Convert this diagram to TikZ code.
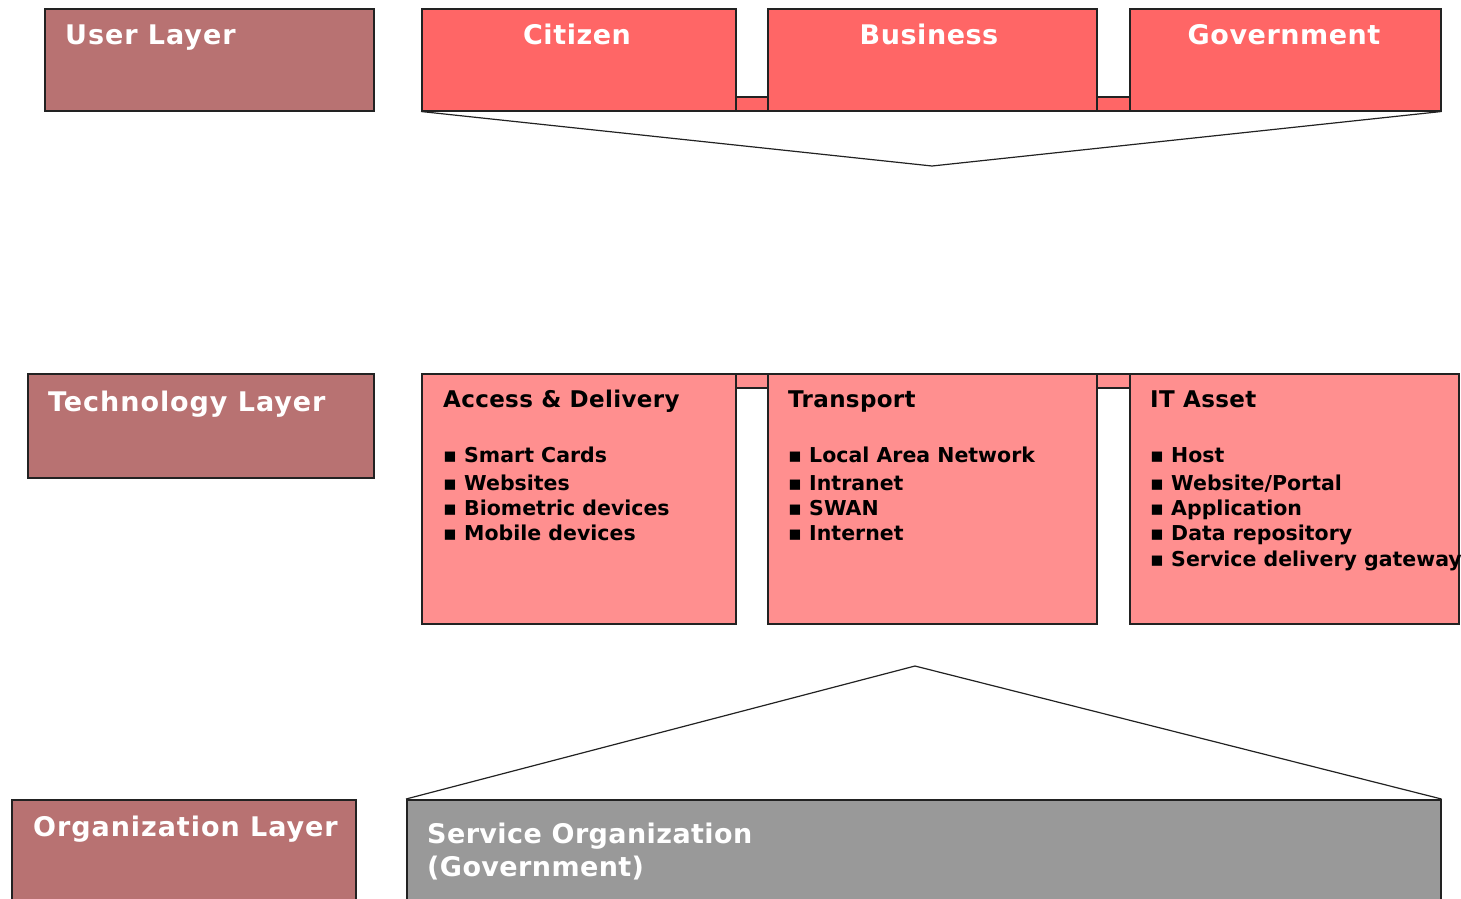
\documentclass[tikz,border=0pt]{standalone}
\usepackage{fontspec}
\setmainfont{DejaVu Sans}
\definecolor{layerc}{HTML}{B87272}
\definecolor{userc}{HTML}{FF6666}
\definecolor{techc}{HTML}{FF8F8F}
\definecolor{orgc}{HTML}{999999}
\definecolor{edgec}{HTML}{222222}
\begin{document}
\begin{tikzpicture}[x=1pt,y=-1pt,
  box/.style={draw=edgec, line width=1.5pt, anchor=north west, inner sep=0pt},
  layerbox/.style={box, fill=layerc},
  userbox/.style={box, fill=userc},
  techbox/.style={box, fill=techc},
  orgbox/.style={box, fill=orgc},
  link/.style={draw=edgec, line width=1.2pt},
  wlabel/.style={text=white, font=\bfseries\fontsize{27}{33}\selectfont\addfontfeatures{LetterSpace=3.5}, inner sep=0pt, anchor=base west},
  slabel/.style={text=white, font=\bfseries\fontsize{27}{33}\selectfont\addfontfeatures{LetterSpace=1.5}, inner sep=0pt, anchor=base west},
  ctitle/.style={text=white, font=\bfseries\fontsize{27}{33}\selectfont\addfontfeatures{LetterSpace=2}, inner sep=0pt, anchor=base},
  ttitle/.style={text=black, font=\bfseries\fontsize{23}{28}\selectfont\addfontfeatures{LetterSpace=1.5}, inner sep=0pt, anchor=base west},
  bitem/.style={text=black, font=\bfseries\fontsize{20.5}{25}\selectfont, inner sep=0pt, anchor=base west}
]
\useasboundingbox (0,0) rectangle (1461,898);
\clip (0,0) rectangle (1461,898);

% connectors between top boxes
\node[userbox, minimum width=32pt, minimum height=14pt] (ucon1) at (735,96) {};
\node[userbox, minimum width=33pt, minimum height=14pt] (ucon2) at (1096,96) {};
% connectors between technology boxes
\node[techbox, minimum width=32pt, minimum height=14pt] (tcon1) at (735,373) {};
\node[techbox, minimum width=33pt, minimum height=14pt] (tcon2) at (1096,373) {};

% layer boxes
\node[layerbox, minimum width=329pt, minimum height=102pt] (user) at (44,8) {};
\node[layerbox, minimum width=346pt, minimum height=104pt] (tech) at (27,373) {};
\node[layerbox, minimum width=344pt, minimum height=110pt] (org) at (11,799) {};

% user boxes
\node[userbox, minimum width=314pt, minimum height=102pt] (citizen) at (421,8) {};
\node[userbox, minimum width=329pt, minimum height=102pt] (business) at (767,8) {};
\node[userbox, minimum width=311pt, minimum height=102pt] (government) at (1129,8) {};

% technology boxes
\node[techbox, minimum width=314pt, minimum height=250pt] (access) at (421,373) {};
\node[techbox, minimum width=329pt, minimum height=250pt] (transport) at (767,373) {};
\node[techbox, minimum width=329pt, minimum height=250pt] (itasset) at (1129,373) {};

% service organization
\node[orgbox, minimum width=1034pt, minimum height=110pt] (service) at (406,799) {};

% V connector and triangle
\coordinate (vtip) at (932,166);
\draw[link] (citizen.south west) -- (vtip) -- (government.south east);
\coordinate (apex) at (915,666);
\draw[link] (service.north west) -- (apex) -- (service.north east);

% labels
\node[wlabel] (userlbl) at (65,44) {User Layer};
\node[wlabel] (techlbl) at (48,411) {Technology Layer};
\node[wlabel] (orglbl) at (33,836) {Organization Layer};

\node[ctitle] (citlbl) at (577,44) {Citizen};
\node[ctitle] (buslbl) at (929,44) {Business};
\node[ctitle] (govlbl) at (1284,44) {Government};

\node[ttitle] (acclbl) at (443,407) {Access \& Delivery};
\node[ttitle] (trnlbl) at (788,407) {Transport};
\node[ttitle] (itlbl) at (1150,407) {IT Asset};

\node[bitem] (acc1) at (443,462) {▪ Smart Cards};
\node[bitem] (acc2) at (443,490) {▪ Websites};
\node[bitem] (acc3) at (443,515) {▪ Biometric devices};
\node[bitem] (acc4) at (443,540) {▪ Mobile devices};

\node[bitem] (trn1) at (788,462) {▪ Local Area Network};
\node[bitem] (trn2) at (788,490) {▪ Intranet};
\node[bitem] (trn3) at (788,515) {▪ SWAN};
\node[bitem] (trn4) at (788,540) {▪ Internet};

\node[bitem] (it1) at (1150,462) {▪ Host};
\node[bitem] (it2) at (1150,490) {▪ Website/Portal};
\node[bitem] (it3) at (1150,515) {▪ Application};
\node[bitem] (it4) at (1150,540) {▪ Data repository};
\node[bitem] (it5) at (1150,566) {▪ Service delivery gateway};

\node[slabel] (servlbl) at (427,843) {Service Organization};
\node[slabel] (servlbl2) at (427,876) {(Government)};
\end{tikzpicture}
\end{document}
